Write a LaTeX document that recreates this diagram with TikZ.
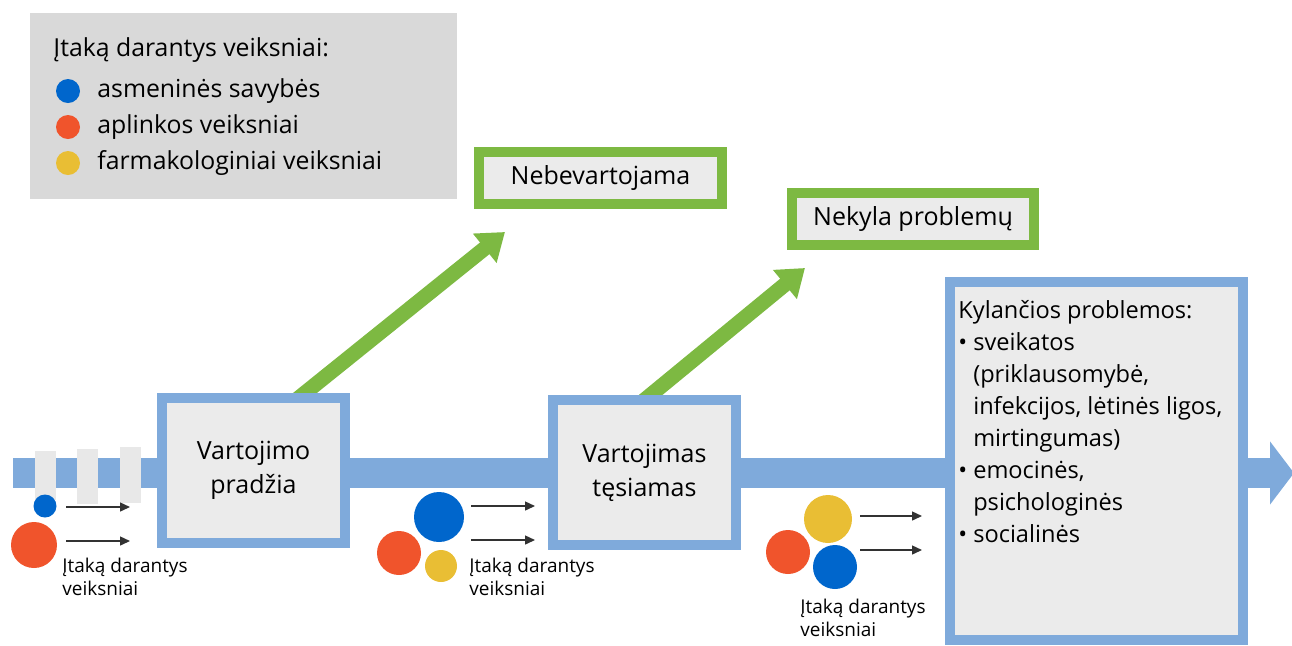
\documentclass[tikz,border=0pt]{standalone}
\usepackage{fontspec}
\setmainfont{Open Sans}
\usepackage{tikz}
\usetikzlibrary{arrows.meta, positioning, backgrounds}
\definecolor{bandblue}{RGB}{127,170,219}
\definecolor{boxgray}{RGB}{235,235,235}
\definecolor{legendgray}{RGB}{217,217,217}
\definecolor{bargray}{RGB}{232,232,232}
\definecolor{outgreen}{RGB}{125,185,66}
\definecolor{fblue}{RGB}{0,102,204}
\definecolor{forange}{RGB}{240,84,44}
\definecolor{fyellow}{RGB}{233,190,52}
\definecolor{arrowgray}{RGB}{50,50,50}
\tikzstyle{stagebox} = [rectangle, draw=bandblue, line width=5pt, fill=boxgray, inner sep=0pt, align=center, font=\fontsize{12.5}{17}\selectfont]
\tikzstyle{outcome} = [rectangle, draw=outgreen, line width=5pt, fill=boxgray, inner sep=0pt, font=\fontsize{12.5}{15}\selectfont]
\tikzstyle{factordot} = [circle, inner sep=0pt, draw=none]
\tikzstyle{arrow} = [line width=0.7pt, draw=arrowgray, -{Triangle[length=5pt,width=4.5pt]}]
\tikzstyle{bigarrow} = [line width=7.5pt, draw=outgreen, -{Triangle[length=13pt,width=18pt]}]
\tikzstyle{factorlabel} = [align=left, anchor=north west, inner sep=0pt, font=\fontsize{9.5}{11.5}\selectfont]
\tikzstyle{legendtext} = [anchor=west, inner sep=0pt, font=\fontsize{12.4}{14}\selectfont]

\begin{document}
\begin{tikzpicture}[x=0.5pt, y=-0.5pt]
    \useasboundingbox (0,0) rectangle (1292,645);

    % Legend
    \node[fill=legendgray, minimum width=213.5pt, minimum height=93pt] (legend) at (243.5,106) {};
    \node[legendtext] (legtitle) at (53,50) {Įtaką darantys veiksniai:};
    \node[factordot, fill=fblue, minimum size=12pt] (legblue) at (68,91) {};
    \node[factordot, fill=forange, minimum size=12pt] (legorange) at (68,127) {};
    \node[factordot, fill=fyellow, minimum size=12pt] (legyellow) at (68,163) {};
    \node[legendtext] (legpersonal) at (97,91) {asmeninės savybės};
    \node[legendtext] (legenv) at (97,127) {aplinkos veiksniai};
    \node[legendtext] (legpharm) at (97,163) {farmakologiniai veiksniai};

    % Stages
    \node[stagebox, minimum width=91.5pt, minimum height=72.5pt] (start) at (253.5,470.5) {Vartojimo\\pradžia};
    \node[stagebox, minimum width=91.5pt, minimum height=72.5pt] (cont) at (644.5,472.5) {Vartojimas\\tęsiamas};
    \node[stagebox, minimum width=146.5pt, minimum height=179pt] (probs) at (1096.5,461) {};
    \node[anchor=north west, inner sep=0pt, font=\fontsize{11.8}{16}\selectfont] (problist) at (958,296) {%
        \begin{tabular}{@{}l@{\hspace{3pt}}l@{}}
        \multicolumn{2}{@{}l@{}}{Kylančios problemos:}\\
        • & sveikatos\\
          & (priklausomybė,\\
          & infekcijos, lėtinės ligos,\\
          & mirtingumas)\\
        • & emocinės,\\
          & psichologinės\\
        • & socialinės
        \end{tabular}};

    % Outcomes
    \node[outcome, minimum width=121.5pt, minimum height=26pt] (stop) at (600.5,178) {Nebevartojama};
    \node[outcome, minimum width=121pt, minimum height=26pt] (noprob) at (913,219) {Nekyla problemų};
    \coordinate (tip1) at (505,232);
    \coordinate (tip2) at (805,268);

    % Band
    \coordinate (bandstart) at (13,473);
    \coordinate (bandend) at (1294,473);
    \node[fill=bargray, minimum width=10.5pt, minimum height=24.5pt, inner sep=0pt] (bar1) at (45.5,475.5) {};
    \node[fill=bargray, minimum width=10.5pt, minimum height=27.5pt, inner sep=0pt] (bar2) at (87.5,476.5) {};
    \node[fill=bargray, minimum width=10.5pt, minimum height=28pt, inner sep=0pt] (bar3) at (130.5,475) {};

    \begin{scope}[on background layer]
        \draw[draw=bandblue, line width=15pt, -{Triangle[length=12pt,width=31pt]}] (bandstart) -- (bandend);
        \draw[bigarrow] ([xshift=18.25pt,yshift=-6pt]start.north) -- (tip1);
        \draw[bigarrow] ([xshift=-4.25pt,yshift=-6pt]cont.north) -- (tip2);
    \end{scope}

    % Factors 1
    \node[factordot, fill=fblue, minimum size=11.5pt] (f1blue) at (45,506) {};
    \node[factordot, fill=forange, minimum size=23pt] (f1orange) at (34,545) {};
    \coordinate (a1s) at (66,507);
    \coordinate (a1e) at (130,507);
    \coordinate (a2s) at (66,541);
    \coordinate (a2e) at (130,541);
    \draw[arrow] (a1s) -- (a1e);
    \draw[arrow] (a2s) -- (a2e);
    \node[factorlabel] (f1text) at (62,558) {Įtaką darantys\\veiksniai};

    % Factors 2
    \node[factordot, fill=fblue, minimum size=25pt] (f2blue) at (439,517) {};
    \node[factordot, fill=forange, minimum size=22pt] (f2orange) at (399,553) {};
    \node[factordot, fill=fyellow, minimum size=16pt] (f2yellow) at (441,566) {};
    \coordinate (b1s) at (471,506);
    \coordinate (b1e) at (535,506);
    \coordinate (b2s) at (471,540);
    \coordinate (b2e) at (535,540);
    \draw[arrow] (b1s) -- (b1e);
    \draw[arrow] (b2s) -- (b2e);
    \node[factorlabel] (f2text) at (469,558) {Įtaką darantys\\veiksniai};

    % Factors 3
    \node[factordot, fill=fyellow, minimum size=24pt] (f3yellow) at (828,519) {};
    \node[factordot, fill=forange, minimum size=22pt] (f3orange) at (788,552) {};
    \node[factordot, fill=fblue, minimum size=22pt] (f3blue) at (835,567) {};
    \coordinate (c1s) at (860,516);
    \coordinate (c1e) at (922,516);
    \coordinate (c2s) at (860,550);
    \coordinate (c2e) at (922,550);
    \draw[arrow] (c1s) -- (c1e);
    \draw[arrow] (c2s) -- (c2e);
    \node[factorlabel] (f3text) at (800,599) {Įtaką darantys\\veiksniai};
\end{tikzpicture}
\end{document}
